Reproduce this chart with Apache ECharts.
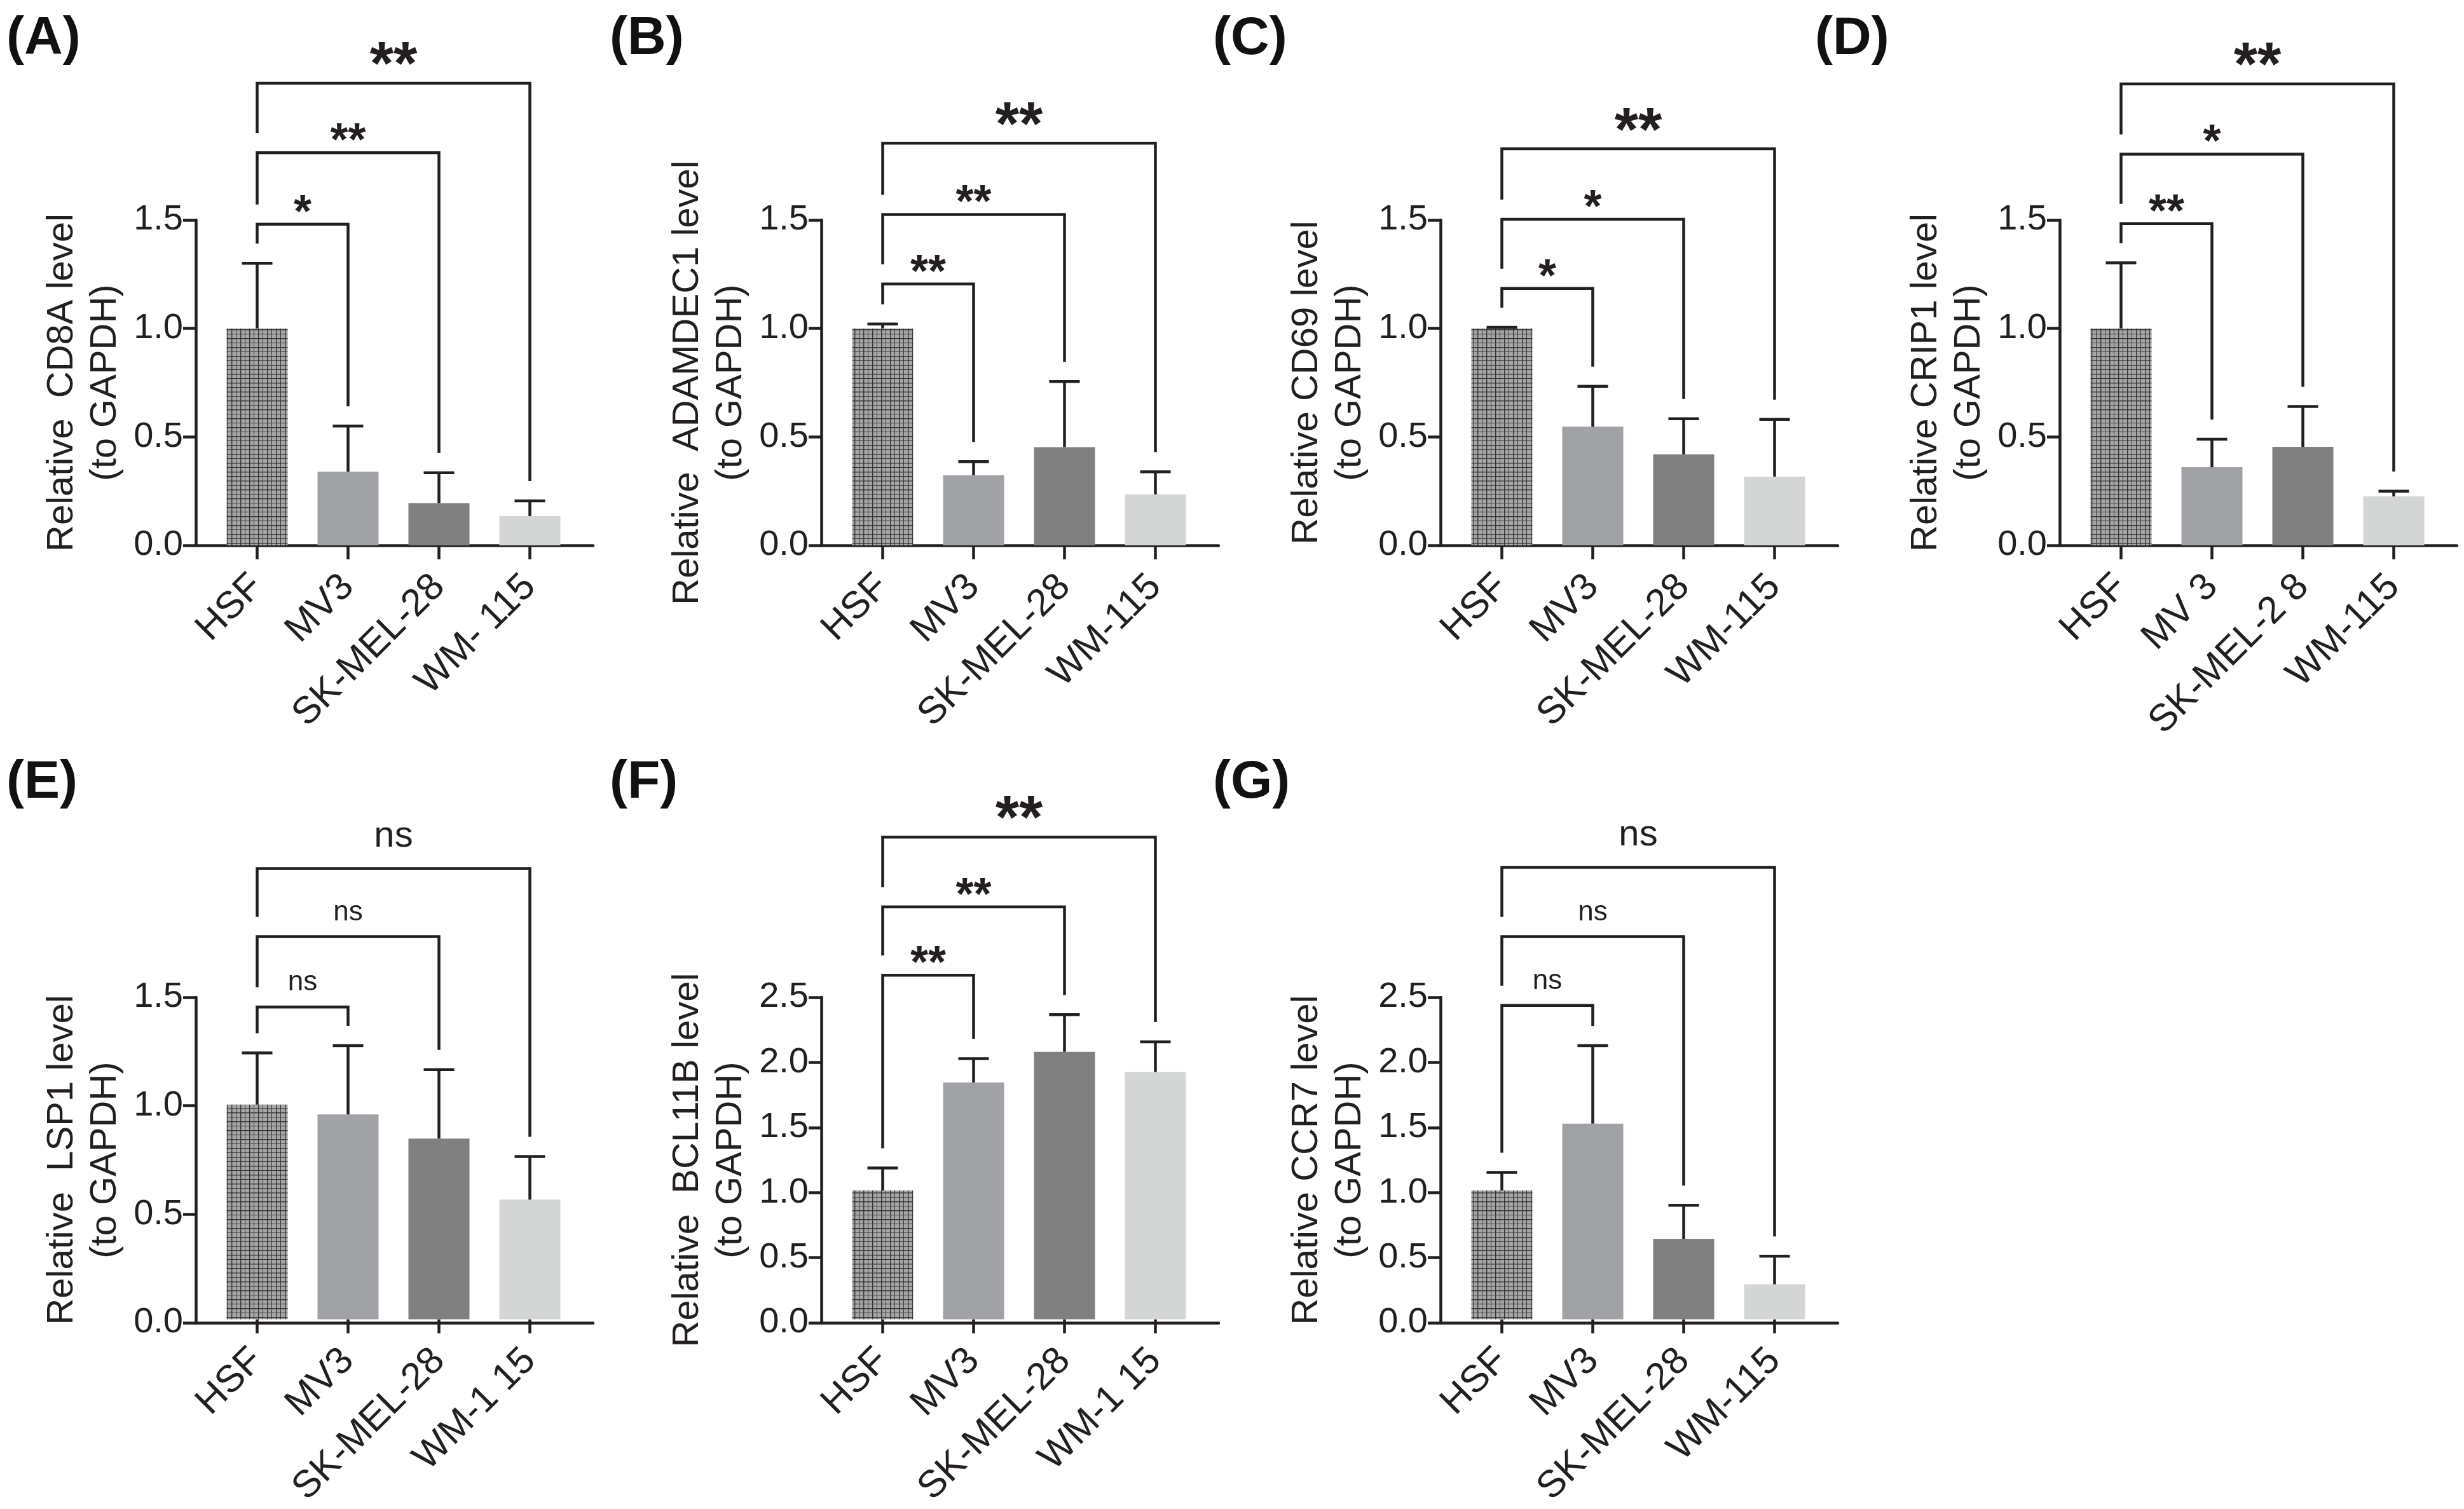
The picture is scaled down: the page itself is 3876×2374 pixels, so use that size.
<!DOCTYPE html>
<html>
<head>
<meta charset="utf-8">
<script src="https://cdn.jsdelivr.net/npm/echarts@6/dist/echarts.min.js"></script>
<style>
html, body { margin: 0; padding: 0; background: #fff; }
#main { width: 3876px; height: 2374px; }
</style>
</head>
<body>
<div id="main"></div>
<script>
// cell line labels as printed under each panel
var labelsStd = ['HSF', 'MV3', 'SK-MEL-28', 'WM-115'];
var labelsA = ['HSF', 'MV3', 'SK-MEL-28', 'WM- 115'];
var labelsD = ['HSF', 'MV 3', 'SK-MEL-2 8', 'WM-115'];
var labelsEF = ['HSF', 'MV3', 'SK-MEL-28', 'WM-1 15'];

// mean and SD per panel
var meanA = [1.0, 0.34, 0.195, 0.135], sdA = [0.30, 0.21, 0.14, 0.07];
var meanB = [1.0, 0.324, 0.453, 0.235], sdB = [0.02, 0.062, 0.302, 0.104];
var meanC = [1.0, 0.547, 0.42, 0.317], sdC = [0.005, 0.186, 0.164, 0.264];
var meanD = [1.0, 0.36, 0.454, 0.226], sdD = [0.302, 0.129, 0.186, 0.024];
var meanE = [1.0, 0.954, 0.842, 0.557], sdE = [0.241, 0.321, 0.321, 0.201];
var meanF = [1.0, 1.839, 2.077, 1.92], sdF = [0.174, 0.185, 0.289, 0.235];
var meanG = [1.0, 1.519, 0.624, 0.271], sdG = [0.14, 0.606, 0.26, 0.219];

// comparison brackets: HSF vs MV3 / SK-MEL-28 / WM-115
var levelA = [1.48, 1.81, 2.13], markA = ['*', '**', '**'];
var levelB = [1.205, 1.525, 1.854], markB = ['**', '**', '**'];
var levelC = [1.184, 1.503, 1.828], markC = ['*', '*', '**'];
var levelD = [1.483, 1.803, 2.127], markD = ['**', '*', '**'];
var levelE = [1.455, 1.783, 2.10], markE = ['ns', 'ns', 'ns'];
var levelF = [2.671, 3.202, 3.744], markF = ['**', '**', '**'];
var levelG = [2.437, 2.972, 3.51], markG = ['ns', 'ns', 'ns'];

var yMaxTop = 1.5, yMaxF = 2.5, yMaxG = 2.5, yStep = 0.5;

var titleA = 'Relative  CD8A level\n(to GAPDH)';
var titleB = 'Relative  ADAMDEC1 level\n(to GAPDH)';
var titleC = 'Relative CD69 level\n(to GAPDH)';
var titleD = 'Relative CRIP1 level\n(to GAPDH)';
var titleE = 'Relative  LSP1 level\n(to GAPDH)';
var titleF = 'Relative  BCL11B level\n(to GAPDH)';
var titleG = 'Relative CCR7 level\n(to GAPDH)';

var ink = '#231f20';
var font = 'Liberation Sans, Arial, Helvetica, sans-serif';
var barColors = [null, '#a1a2a6', '#808080', '#d4d5d5'];

// fine grid fill of the HSF bar
var hatch = document.createElement('canvas');
hatch.width = 14; hatch.height = 14;
var g = hatch.getContext('2d');
g.fillStyle = '#a6a6a6'; g.fillRect(0, 0, 14, 14);
g.fillStyle = '#363636';
g.fillRect(0, 0, 14, 1.4); g.fillRect(0, 7, 14, 1);
g.fillRect(0, 0, 1.4, 14); g.fillRect(7, 0, 1, 14);

var panels = [
    { tag: '(A)', lx: 10, ly: 20, x: 308, top: 346, max: yMaxTop, mean: meanA, sd: sdA, labels: labelsA, title: titleA, level: levelA, mark: markA },
    { tag: '(B)', lx: 959, ly: 20, x: 1292, top: 346, max: yMaxTop, mean: meanB, sd: sdB, labels: labelsStd, title: titleB, level: levelB, mark: markB },
    { tag: '(C)', lx: 1908, ly: 20, x: 2266, top: 346, max: yMaxTop, mean: meanC, sd: sdC, labels: labelsStd, title: titleC, level: levelC, mark: markC },
    { tag: '(D)', lx: 2855, ly: 20, x: 3240, top: 346, max: yMaxTop, mean: meanD, sd: sdD, labels: labelsD, title: titleD, level: levelD, mark: markD },
    { tag: '(E)', lx: 10, ly: 1190, x: 308, top: 1569, max: yMaxTop, mean: meanE, sd: sdE, labels: labelsEF, title: titleE, level: levelE, mark: markE },
    { tag: '(F)', lx: 959, ly: 1190, x: 1292, top: 1569, max: yMaxF, mean: meanF, sd: sdF, labels: labelsEF, title: titleF, level: levelF, mark: markF },
    { tag: '(G)', lx: 1908, ly: 1190, x: 2266, top: 1569, max: yMaxG, mean: meanG, sd: sdG, labels: labelsStd, title: titleG, level: levelG, mark: markG }
];

var plotH = 512, axisLen = 625, bandOff = 25, bandW = 572;

function errRender(params, api) {
    var p0 = api.coord([api.value(0), api.value(1)]);
    var p1 = api.coord([api.value(0), api.value(2)]);
    var half = 24;
    var st = { stroke: ink, lineWidth: 4.5 };
    return {
        type: 'group',
        children: [
            { type: 'line', shape: { x1: p0[0], y1: p0[1], x2: p1[0], y2: p1[1] }, style: st },
            { type: 'line', shape: { x1: p1[0] - half, y1: p1[1], x2: p1[0] + half, y2: p1[1] }, style: st }
        ]
    };
}

function makeBracketRender(marks) {
    return function (params, api) {
        var j = api.value(0);
        var lv = api.coord([0, api.value(1)]);
        var left = api.coord([0, api.value(2)]);
        var right = api.coord([j, api.value(3)]);
        var gap = 31;
        var x0 = lv[0], x1 = right[0], y = lv[1];
        var st = { stroke: ink, lineWidth: 4.5, fill: null };
        var last = params.dataIndex === marks.length - 1;
        var txt = marks[params.dataIndex];
        var isNs = txt === 'ns';
        var size = isNs ? (last ? 58 : 44) : (last ? 96 : 72);
        var lift = isNs ? (last ? 50 : 38) : (last ? 25 : 16);
        return {
            type: 'group',
            children: [
                { type: 'polyline', shape: { points: [[x0, left[1] - gap], [x0, y], [x1, y], [x1, right[1] - gap]] }, style: st },
                {
                    type: 'text',
                    style: {
                        x: (x0 + x1) / 2, y: y - lift, text: txt,
                        fill: ink, align: 'center', verticalAlign: 'middle',
                        font: (isNs ? 'normal ' : 'bold ') + size + 'px ' + font
                    }
                }
            ]
        };
    };
}

var option = { animation: false, backgroundColor: '#fff', grid: [], xAxis: [], yAxis: [], series: [], graphic: [] };

panels.forEach(function (p, k) {
    var gf = 2 * k, gb = 2 * k + 1;
    option.grid.push({ left: p.x, top: p.top, width: axisLen, height: plotH });
    option.grid.push({ left: p.x + bandOff, top: p.top, width: bandW, height: plotH });

    // frame axes: y axis with ticks and x axis line
    option.xAxis.push({
        gridIndex: gf, type: 'value', min: 0, max: 1,
        axisLine: { show: true, onZero: false, lineStyle: { color: ink, width: 4.5 } },
        axisTick: { show: false }, axisLabel: { show: false }, splitLine: { show: false }
    });
    option.yAxis.push({
        gridIndex: gf, type: 'value', min: 0, max: p.max, interval: yStep,
        axisLine: { show: true, lineStyle: { color: ink, width: 4.5 } },
        axisTick: { show: true, length: 20, lineStyle: { color: ink, width: 4.5 } },
        axisLabel: { color: ink, fontSize: 56, fontFamily: font, margin: 20, formatter: function (v) { return v.toFixed(1); } },
        splitLine: { show: false },
        name: p.title, nameLocation: 'middle', nameRotate: 90, nameGap: 108,
        nameTextStyle: { color: ink, fontSize: 58, fontFamily: font, lineHeight: 68, align: 'center' }
    });

    // bar axes
    option.xAxis.push({
        gridIndex: gb, type: 'category', data: p.labels,
        axisLine: { show: false },
        axisTick: { show: true, alignWithLabel: true, length: 22, lineStyle: { color: ink, width: 4.5 } },
        axisLabel: { color: ink, fontSize: 60, fontFamily: font, rotate: 45, margin: 56, interval: 0 },
        splitLine: { show: false }
    });
    option.yAxis.push({ gridIndex: gb, type: 'value', min: 0, max: p.max, show: false, splitLine: { show: false } });

    var bars = p.mean.map(function (v, i) {
        return { value: v, itemStyle: { color: i === 0 ? { image: hatch, repeat: 'repeat' } : barColors[i] } };
    });
    option.series.push({
        type: 'bar', xAxisIndex: gb, yAxisIndex: gb,
        data: bars, barWidth: 96, z: 2
    });

    var errs = p.mean.map(function (v, i) { return [i, v, v + p.sd[i]]; });
    option.series.push({
        type: 'custom', xAxisIndex: gb, yAxisIndex: gb,
        renderItem: errRender, data: errs, clip: false, z: 3
    });

    var br = p.level.map(function (lv, n) {
        var leftBase = n === 0 ? p.mean[0] + p.sd[0] : p.level[n - 1];
        return [n + 1, lv, leftBase, p.mean[n + 1] + p.sd[n + 1]];
    });
    option.series.push({
        type: 'custom', xAxisIndex: gb, yAxisIndex: gb,
        renderItem: makeBracketRender(p.mark), data: br, clip: false, z: 4
    });

    option.graphic.push({
        type: 'text', left: p.lx, top: p.ly,
        style: { text: p.tag, fill: '#111', font: 'bold 84px ' + font }
    });
});

var chart = echarts.init(document.getElementById('main'), null, { renderer: 'canvas' });
chart.setOption(option);
</script>
</body>
</html>
